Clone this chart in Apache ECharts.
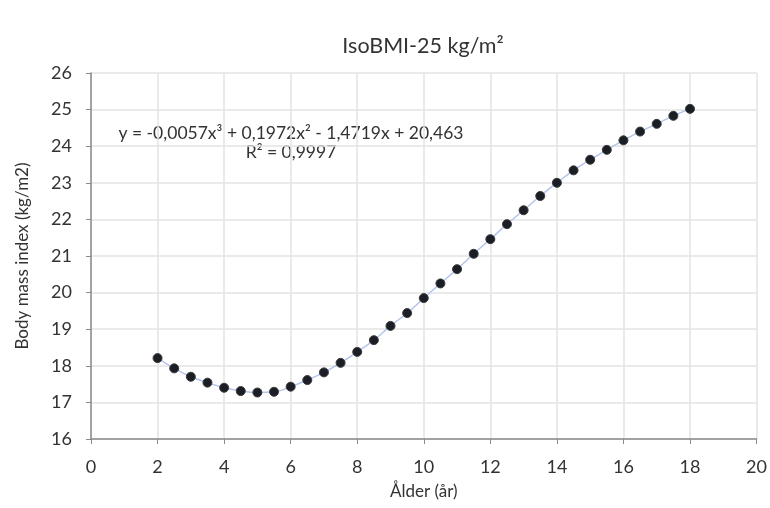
<!DOCTYPE html>
<html><head><meta charset="utf-8">
<script src="https://cdn.jsdelivr.net/npm/echarts@6/dist/echarts.min.js"></script>
<style>html,body{margin:0;padding:0;background:#fff}#c{width:770px;height:508px}</style>
</head><body><div id="c"></div>
<script>
const titleText = 'IsoBMI-25 kg/m²';
const xName = 'Ålder (år)';
const yName = 'Body mass index (kg/m2)';
const equationLine1 = 'y = -0,0057x³ + 0,1972x² - 1,4719x + 20,463';
const equationLine2 = 'R² = 0,9997';
const ages = [2,2.5,3,3.5,4,4.5,5,5.5,6,6.5,7,7.5,8,8.5,9,9.5,10,10.5,11,11.5,12,12.5,13,13.5,14,14.5,15,15.5,16,16.5,17,17.5,18];
const bmi = [18.21,17.93,17.70,17.54,17.40,17.31,17.27,17.29,17.43,17.61,17.82,18.08,18.38,18.70,19.09,19.44,19.85,20.25,20.64,21.06,21.46,21.87,22.25,22.64,23.00,23.34,23.63,23.90,24.16,24.40,24.61,24.83,25.02];

const font = 'Lato, "Open Sans", sans-serif';
const chart = echarts.init(document.getElementById('c'));
chart.setOption({
  animation: false,
  backgroundColor: '#fff',
  textStyle: {fontFamily: font},
  title: {text: titleText, left: 418, top: 30, textAlign: 'center',
    textStyle: {fontFamily: font, fontSize: 21.5, fontWeight: 'normal', color: '#333'}},
  grid: {left: 91, right: 13, top: 73, bottom: 69},
  xAxis: {type: 'value', min: 0, max: 20, interval: 2,
    name: xName, nameLocation: 'middle', nameGap: 44,
    nameTextStyle: {fontFamily: font, fontSize: 17, color: '#333'},
    axisLine: {lineStyle: {color: '#8a8a8a', width: 1.5}},
    axisTick: {show: true, length: 5, lineStyle: {color: '#8a8a8a'}},
    axisLabel: {fontFamily: font, fontSize: 18, color: '#333', margin: 19},
    splitLine: {show: true, lineStyle: {color: '#e3e3e3', width: 1.5}}},
  yAxis: {type: 'value', min: 16, max: 26, interval: 1,
    name: yName, nameLocation: 'middle', nameGap: 60, nameRotate: 90,
    nameTextStyle: {fontFamily: font, fontSize: 17, color: '#333'},
    axisLine: {show: true, lineStyle: {color: '#8a8a8a', width: 1.5}},
    axisTick: {show: true, length: 5, lineStyle: {color: '#8a8a8a'}},
    axisLabel: {fontFamily: font, fontSize: 18, color: '#333', margin: 19},
    splitLine: {show: true, lineStyle: {color: '#e3e3e3', width: 1.5}}},
  graphic: [
    {type: 'text', x: 291, y: 124, style: {text: equationLine1, fontFamily: font, fontSize: 17.5, fill: '#333', align: 'center'}},
    {type: 'text', x: 291, y: 143, style: {text: equationLine2, fontFamily: font, fontSize: 17.5, fill: '#333', align: 'center'}}
  ],
  series: [{
    type: 'line',
    data: ages.map((a, i) => [a, bmi[i]]),
    smooth: true,
    lineStyle: {color: '#b3c4ee', width: 1.5},
    symbol: 'circle', symbolSize: 9,
    itemStyle: {color: '#1c1e26', borderColor: '#3a3a3a', borderWidth: 1}
  }]
});
</script></body></html>
